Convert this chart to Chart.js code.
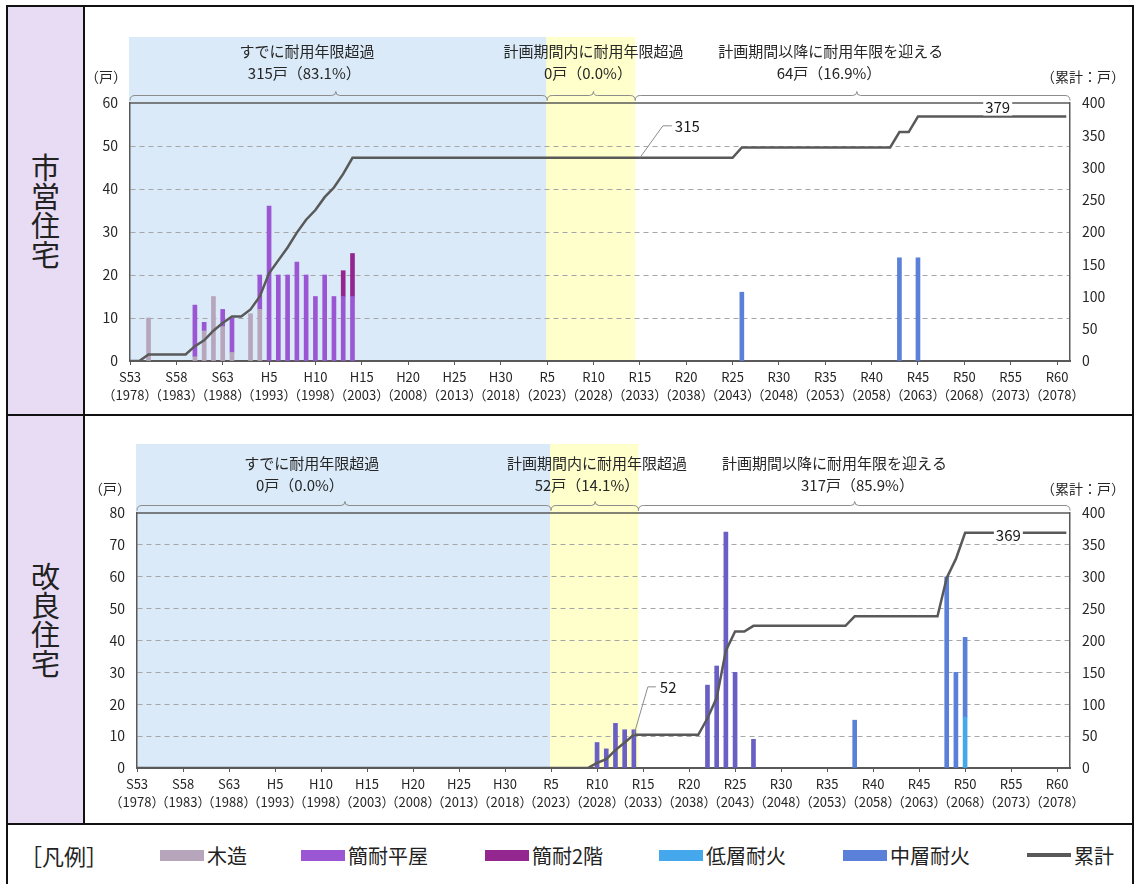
<!DOCTYPE html>
<html lang="ja">
<head>
<meta charset="utf-8">
<title>耐用年限の状況</title>
<script src="https://cdn.jsdelivr.net/npm/chart.js@4.4.1/dist/chart.umd.min.js"></script>
<style>
    body { margin: 0; background: #fff; font-family: "Noto Sans CJK JP", sans-serif; color: #1a1a1a; }
    #page { position: relative; width: 1134px; height: 884px; overflow: hidden; }
    .abs { position: absolute; }
    .frame { left: 6px; top: 5px; width: 1128px; height: 890px; border: 2px solid #111; box-sizing: border-box; }
    .side { left: 8px; top: 7px; width: 75px; height: 816px; background: #e8dcf4; }
    .vline { left: 83px; top: 7px; width: 2px; height: 817px; background: #111; }
    .hline { left: 8px; width: 1126px; height: 2px; background: #111; }
    .vtitle { left: 8px; width: 75px; height: 407px; display: flex; align-items: center; justify-content: center; }
    .vtitle span { writing-mode: vertical-rl; font-size: 29px; color: #222; }
    .lg { top: 840px; height: 30px; display: flex; align-items: center; font-size: 20px; color: #222; }
    .sw { display: inline-block; width: 44px; height: 11px; margin-right: 3px; }
</style>
</head>
<body>
<div id="page">
    <div class="abs side"></div>
    <div class="abs frame"></div>
    <div class="abs vline"></div>
    <div class="abs hline" style="top:414px"></div>
    <div class="abs hline" style="top:823px"></div>
    <div class="abs vtitle" style="top:7px"><span>市営住宅</span></div>
    <div class="abs vtitle" style="top:416px"><span>改良住宅</span></div>

    <div class="abs" style="left:85px;top:8px;width:1047px;height:406px"><canvas id="chartShiei" width="1047" height="406"></canvas></div>
    <div class="abs" style="left:85px;top:416px;width:1047px;height:407px"><canvas id="chartKairyo" width="1047" height="407"></canvas></div>

    <div class="abs lg" style="left:20px;font-size:22px">［凡例］</div>
    <div class="abs lg" style="left:160px"><span class="sw" style="background:#b7a5bc"></span>木造</div>
    <div class="abs lg" style="left:301px"><span class="sw" style="background:#9b57d3"></span>簡耐平屋</div>
    <div class="abs lg" style="left:485px"><span class="sw" style="background:#93278f"></span>簡耐2階</div>
    <div class="abs lg" style="left:659px"><span class="sw" style="background:#45a8ec"></span>低層耐火</div>
    <div class="abs lg" style="left:843px"><span class="sw" style="background:#5b80d9"></span>中層耐火</div>
    <div class="abs lg" style="left:1027px"><span class="sw" style="height:4px;background:#595959"></span>累計</div>
</div>

<script>
(function () {
    "use strict";

    // x axis ticks
    const tickYears = [1978, 1983, 1988, 1993, 1998, 2003, 2008, 2013, 2018, 2023, 2028,
        2033, 2038, 2043, 2048, 2053, 2058, 2063, 2068, 2073, 2078];
    const tickEras = ["S53", "S58", "S63", "H5", "H10", "H15", "H20", "H25", "H30", "R5", "R10",
        "R15", "R20", "R25", "R30", "R35", "R40", "R45", "R50", "R55", "R60"];

    // 市営住宅  [year, units]
    const shiMokuzo = [[1980, 10], [1985, 1], [1986, 7], [1987, 15], [1988, 8], [1989, 2], [1991, 11], [1992, 12]];
    const shiHiraya = [[1985, 12], [1986, 2], [1988, 4], [1989, 8], [1992, 8], [1993, 36], [1994, 20], [1995, 20],
        [1996, 23], [1997, 20], [1998, 15], [1999, 20], [2000, 15], [2001, 15], [2002, 15]];
    const shiNikai = [[2001, 6], [2002, 10]];
    const shiChuso = [[2044, 16], [2061, 24], [2063, 24]];
    const shiRuikei = [[1978, 0], [1979, 0], [1980, 10], [1984, 10], [1985, 23], [1986, 32], [1987, 47], [1988, 59],
        [1989, 69], [1990, 69], [1991, 80], [1992, 100], [1993, 136], [1994, 156], [1995, 176], [1996, 199],
        [1997, 219], [1998, 234], [1999, 254], [2000, 269], [2001, 290], [2002, 315], [2043, 315], [2044, 331],
        [2060, 331], [2061, 355], [2062, 355], [2063, 379], [2079, 379]];

    // 改良住宅  [year, units]
    const kaiKantai = [[2028, 8], [2029, 6], [2030, 14], [2031, 12], [2032, 12], [2040, 26], [2041, 32],
        [2042, 74], [2043, 30], [2045, 9]];
    const kaiTeiso = [[2068, 16]];
    const kaiChuso = [[2056, 15], [2066, 60], [2067, 30], [2068, 25]];
    const kaiRuikei = [[1978, 0], [2027, 0], [2028, 8], [2029, 14], [2030, 28], [2031, 40], [2032, 52], [2039, 52],
        [2040, 78], [2041, 110], [2042, 184], [2043, 214], [2044, 214], [2045, 223], [2055, 223], [2056, 238],
        [2065, 238], [2066, 298], [2067, 328], [2068, 369], [2079, 369]];

    const FONT = '"Noto Sans CJK JP", sans-serif';
    Chart.defaults.font.family = FONT;
    Chart.defaults.font.size = 13;
    Chart.defaults.color = "#262626";

    const pts = (arr) => arr.map(([x, y]) => ({ x: x, y: y }));

    const bar = (label, data, color) => ({
        type: "bar",
        label: label,
        data: pts(data),
        backgroundColor: color,
        borderWidth: 0,
        barThickness: 4,
        yAxisID: "y",
        order: 1,
    });

    const line = (data) => ({
        type: "line",
        label: "累計",
        data: pts(data),
        borderColor: "#595959",
        borderWidth: 2.5,
        pointRadius: 0,
        tension: 0,
        yAxisID: "y1",
        order: 0,
    });

    function drawBrace(ctx, x0, x1, xm, y) {
        const r = 5;
        ctx.beginPath();
        ctx.moveTo(x0, y + r);
        ctx.quadraticCurveTo(x0, y, x0 + r, y);
        ctx.lineTo(xm - 4, y);
        ctx.quadraticCurveTo(xm, y, xm, y - 4);
        ctx.quadraticCurveTo(xm, y, xm + 4, y);
        ctx.lineTo(x1 - r, y);
        ctx.quadraticCurveTo(x1, y, x1, y + r);
        ctx.stroke();
    }

    const decorPlugin = {
        id: "decor",
        beforeDraw(chart, args, opts) {
            const { ctx, chartArea: a } = chart;
            const x = chart.scales.x;
            ctx.save();
            opts.regions.forEach((r) => {
                const x0 = x.getPixelForValue(r.from);
                const x1 = x.getPixelForValue(r.to);
                ctx.fillStyle = r.color;
                ctx.fillRect(x0 - 1, a.top - opts.bgTop, x1 - x0 + 1, a.bottom - a.top + opts.bgTop);
            });
            ctx.strokeStyle = "#8c8c8c";
            ctx.lineWidth = 1;
            opts.braces.forEach((b) => {
                drawBrace(ctx, x.getPixelForValue(b.from), x.getPixelForValue(b.to), x.getPixelForValue(b.mid), a.top - 7.5);
            });
            ctx.fillStyle = "#262626";
            ctx.textAlign = "center";
            ctx.textBaseline = "middle";
            ctx.font = "15px " + FONT;
            opts.headers.forEach((h) => {
                ctx.fillText(h.text, x.getPixelForValue(h.x), a.top + h.dy);
            });
            ctx.font = "14px " + FONT;
            ctx.fillText("（戸）", a.left + opts.unitL, a.top + opts.unitDy);
            ctx.fillText("（累計：戸）", a.right + 13, a.top + opts.unitDy);
            ctx.restore();
        },
        beforeDatasetsDraw(chart) {
            const { ctx, chartArea: a } = chart;
            ctx.save();
            ctx.strokeStyle = "#595959";
            ctx.lineWidth = 1.5;
            ctx.beginPath();
            ctx.moveTo(a.left, a.top);
            ctx.lineTo(a.right, a.top);
            ctx.stroke();
            ctx.restore();
        },
        afterDatasetsDraw(chart, args, opts) {
            const { ctx } = chart;
            const x = chart.scales.x;
            const y1 = chart.scales.y1;
            ctx.save();
            ctx.font = "15px " + FONT;
            ctx.textBaseline = "middle";
            opts.labels.forEach((l) => {
                const px = x.getPixelForValue(l.x);
                const py = y1.getPixelForValue(l.y);
                if (l.leader) {
                    ctx.strokeStyle = "#8c8c8c";
                    ctx.lineWidth = 1;
                    ctx.beginPath();
                    ctx.moveTo(px, py);
                    l.leader.forEach(([dx, dy]) => ctx.lineTo(px + dx, py + dy));
                    ctx.stroke();
                }
                ctx.textAlign = l.align;
                const tx = px + l.dx;
                const ty = py + l.dy;
                if (l.box) {
                    const w = ctx.measureText(l.text).width + 4;
                    ctx.fillStyle = "#fff";
                    ctx.fillRect(tx - w / 2, ty - 8, w, 16);
                }
                ctx.fillStyle = "#1a1a1a";
                ctx.fillText(l.text, tx, ty);
            });
            ctx.restore();
        },
    };

    function makeChart(id, cfg) {
        const ctx = document.getElementById(id).getContext("2d");
        return new Chart(ctx, {
            type: "bar",
            data: { datasets: cfg.datasets },
            plugins: [decorPlugin],
            options: {
                responsive: false,
                animation: false,
                layout: { padding: { top: cfg.padTop, left: 0, right: 0, bottom: 0 } },
                plugins: {
                    legend: { display: false },
                    tooltip: { enabled: false },
                    decor: cfg.decor,
                },
                scales: {
                    x: {
                        type: "linear",
                        min: 1978,
                        max: 2079.4,
                        stacked: true,
                        offset: false,
                        afterBuildTicks: (scale) => {
                            scale.ticks = tickYears.map((v) => ({ value: v }));
                        },
                        afterFit: (scale) => {
                            scale.height = cfg.xHeight;
                        },
                        ticks: {
                            autoSkip: false,
                            maxRotation: 0,
                            minRotation: 0,
                            padding: 3,
                            font: { size: 13, lineHeight: 1.4 },
                            callback: (v) => {
                                const i = tickYears.indexOf(v);
                                return i < 0 ? "" : [tickEras[i], "（" + v + "）"];
                            },
                        },
                        grid: {
                            offset: false,
                            drawOnChartArea: false,
                            drawTicks: true,
                            tickLength: 4,
                            tickColor: "#595959",
                        },
                        border: { color: "#595959", width: 2 },
                    },
                    y: {
                        position: "left",
                        stacked: true,
                        min: 0,
                        max: cfg.yMax,
                        ticks: { stepSize: 10, padding: 12, font: { size: 14 } },
                        afterFit: (scale) => {
                            scale.width = cfg.leftWidth;
                        },
                        grid: {
                            drawTicks: false,
                            color: (c) =>
                                c.tick.value === 0 || c.tick.value === cfg.yMax ? "rgba(0,0,0,0)" : "#a6a6a6",
                        },
                        border: { color: "#595959", width: 1.5, dash: [5, 4] },
                    },
                    y1: {
                        position: "right",
                        stacked: false,
                        min: 0,
                        max: 400,
                        ticks: { stepSize: 50, padding: 12, font: { size: 14 } },
                        afterFit: (scale) => {
                            scale.width = 62;
                        },
                        grid: { drawOnChartArea: false, drawTicks: false },
                        border: { color: "#595959", width: 1.5 },
                    },
                },
            },
        });
    }

    const blue = "#daeaf8";
    const yellow = "#ffffcc";

    // 市営住宅
    makeChart("chartShiei", {
        padTop: 95,
        xHeight: 53,
        leftWidth: 45,
        yMax: 60,
        datasets: [
            bar("木造", shiMokuzo, "#b7a5bc"),
            bar("簡耐平屋", shiHiraya, "#9b57d3"),
            bar("簡耐2階", shiNikai, "#93278f"),
            bar("中層耐火", shiChuso, "#5b80d9"),
            line(shiRuikei),
        ],
        decor: {
            bgTop: 66,
            unitL: -24,
            unitDy: -26,
            regions: [
                { from: 1978, to: 2023, color: blue },
                { from: 2023, to: 2032.5, color: yellow },
            ],
            braces: [
                { from: 1978, to: 2023, mid: 2000.2 },
                { from: 2023, to: 2032.5, mid: 2028 },
                { from: 2032.5, to: 2079.4, mid: 2056.4 },
            ],
            headers: [
                { text: "すでに耐用年限超過", x: 1997.1, dy: -52 },
                { text: "315戸（83.1%）", x: 1996.8, dy: -30 },
                { text: "計画期間内に耐用年限超過", x: 2028.0, dy: -52 },
                { text: "0戸（0.0%）", x: 2027.4, dy: -30 },
                { text: "計画期間以降に耐用年限を迎える", x: 2053.6, dy: -52 },
                { text: "64戸（16.9%）", x: 2053.4, dy: -30 },
            ],
            labels: [
                { text: "315", x: 2033, y: 315, dx: 35, dy: -32, align: "left", leader: [[23, -32], [32, -32]] },
                { text: "379", x: 2071.6, y: 379, dx: 0, dy: -9, align: "center", box: true },
            ],
        },
    });

    // 改良住宅
    makeChart("chartKairyo", {
        padTop: 97,
        xHeight: 55,
        leftWidth: 52,
        yMax: 80,
        datasets: [
            bar("簡耐", kaiKantai, "#6a5fc4"),
            bar("低層耐火", kaiTeiso, "#45a8ec"),
            bar("中層耐火", kaiChuso, "#5b80d9"),
            line(kaiRuikei),
        ],
        decor: {
            bgTop: 69,
            unitL: -27,
            unitDy: -24,
            regions: [
                { from: 1978, to: 2023, color: blue },
                { from: 2023, to: 2032.5, color: yellow },
            ],
            braces: [
                { from: 1978, to: 2023, mid: 2000.6 },
                { from: 2023, to: 2032.5, mid: 2027.8 },
                { from: 2032.5, to: 2079.4, mid: 2056 },
            ],
            headers: [
                { text: "すでに耐用年限超過", x: 1997.0, dy: -50 },
                { text: "0戸（0.0%）", x: 1995.7, dy: -28 },
                { text: "計画期間内に耐用年限超過", x: 2028.0, dy: -50 },
                { text: "52戸（14.1%）", x: 2026.9, dy: -28 },
                { text: "計画期間以降に耐用年限を迎える", x: 2053.8, dy: -50 },
                { text: "317戸（85.9%）", x: 2056.3, dy: -28 },
            ],
            labels: [
                { text: "52", x: 2032, y: 52, dx: 26, dy: -48, align: "left", leader: [[14, -48], [22, -48]] },
                { text: "369", x: 2072.7, y: 369, dx: 0, dy: 3, align: "center", box: true },
            ],
        },
    });
})();
</script>
</body>
</html>
